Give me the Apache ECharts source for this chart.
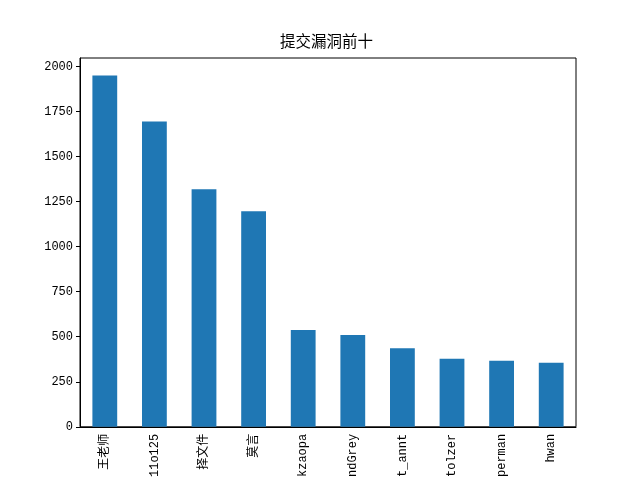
<!DOCTYPE html>
<html>
<head>
<meta charset="utf-8">
<script src="https://cdn.jsdelivr.net/npm/echarts@6/dist/echarts.min.js"></script>
<style>html,body{margin:0;padding:0;background:#fff}#c{width:640px;height:480px}</style>
</head>
<body>
<div id="c"></div>
<script>
const title = '提交漏洞前十';
const categories = ['王老师','11o125','择文件','莫言','kzaopa','ndGrey','t_annt','tolzer','perman','hwan'];
const values = [1950, 1695, 1318, 1197, 537, 510, 436, 377, 366, 355];
const yTicks = [0, 250, 500, 750, 1000, 1250, 1500, 1750, 2000];

const font = '"Liberation Mono", "Noto Sans CJK SC", monospace';
const chart = echarts.init(document.getElementById('c'));
chart.setOption({
  animation: false,
  backgroundColor: '#fff',
  title: {
    text: title, left: 280, top: 35, padding: 0,
    textStyle: { fontFamily: font, fontSize: 15.5, fontWeight: 'normal', color: '#000' }
  },
  grid: { left: 80, right: 64, top: 58, bottom: 53, show: true, borderColor: '#000', borderWidth: 1, backgroundColor: 'transparent' },
  xAxis: {
    type: 'category', data: categories,
    axisLine: { lineStyle: { color: '#000', width: 1 } },
    axisTick: { alignWithLabel: true, length: 4, lineStyle: { color: '#000' } },
    axisLabel: { rotate: 90, color: '#000', fontFamily: font, fontSize: 12, margin: 7, interval: 0 }
  },
  yAxis: {
    type: 'value', min: 0, max: 2047, interval: 250,
    splitLine: { show: false },
    axisLine: { show: true, lineStyle: { color: '#000', width: 1 } },
    axisTick: { show: true, length: 4, lineStyle: { color: '#000' } },
    axisLabel: { color: '#000', fontFamily: font, fontSize: 12, margin: 7, showMaxLabel: false,
      formatter: v => yTicks.includes(v) ? String(v) : '' }
  },
  series: [{
    type: 'bar', data: values, barWidth: '50%',
    itemStyle: { color: '#1f77b4' }
  }]
});
</script>
</body>
</html>
